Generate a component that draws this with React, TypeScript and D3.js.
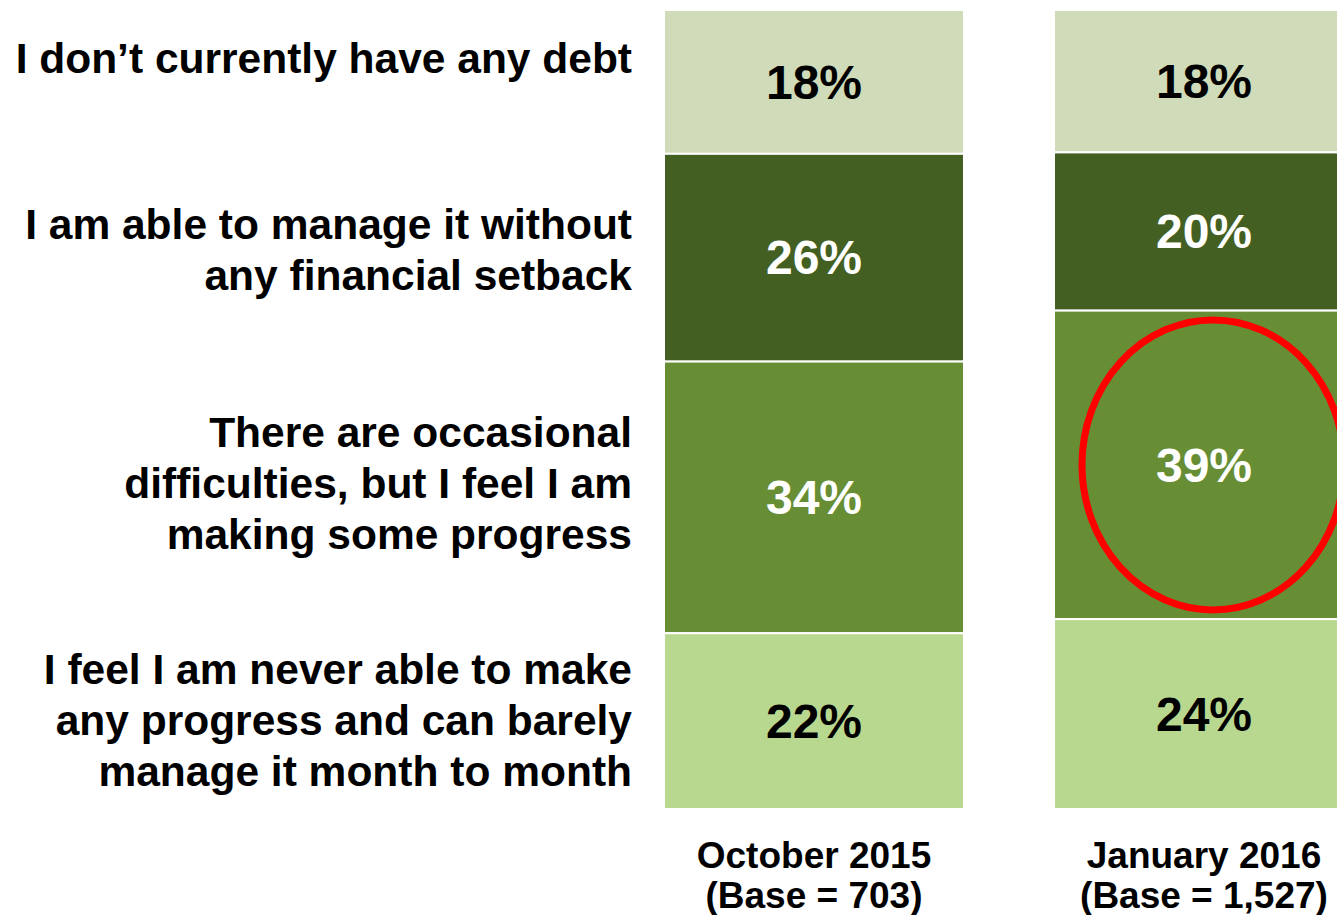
import React from "react";
import * as d3 from "d3";

const categories = [
  "I don’t currently have any debt",
  "I am able to manage it without any financial setback",
  "There are occasional difficulties, but I feel I am making some progress",
  "I feel I am never able to make any progress and can barely manage it month to month",
];
const categoryLines = [
  ["I don’t currently have any debt"],
  ["I am able to manage it without", "any financial setback"],
  ["There are occasional", "difficulties, but I feel I am", "making some progress"],
  ["I feel I am never able to make", "any progress and can barely", "manage it month to month"],
];
const periods = ["October 2015", "January 2016"];
const bases = ["(Base = 703)", "(Base = 1,527)"];
const october2015 = [18, 26, 34, 22];
const january2016 = [18, 20, 39, 24];
const seriesValues = [october2015, january2016];
const highlight = { period: 1, category: 2 };

const colors = ["#cfdbb9", "#445f22", "#678e34", "#b9d88f"];
const textColors = ["#000000", "#ffffff", "#ffffff", "#000000"];
// vertical center (px) of each left label block
const labelCenters = [58, 249, 483, 720];

const W = 1337;
const H = 915;
const FONT = "'Liberation Sans', Arial, Helvetica, sans-serif";

export default function App() {
  const x = d3.scaleBand<string>().domain(periods).range([664, 1354]).paddingInner(90 / 390).paddingOuter(0);
  const bw = x.bandwidth();
  const top = 10;
  const bottom = 809;

  const bars = seriesValues.map((vals, pi) => {
    const total = d3.sum(vals);
    const y = d3.scaleLinear().domain([0, total]).range([top, bottom]);
    const cum = d3.cumsum(vals);
    return vals.map((v, ci) => {
      const y0 = y(cum[ci] - v);
      const y1 = y(cum[ci]);
      return { pi, ci, v, x: x(periods[pi]) as number, y0, y1 };
    });
  });

  const hl = bars[highlight.period][highlight.category];
  const hlCx = hl.x + bw / 2 + 9;
  const hlCy = (hl.y0 + hl.y1) / 2;

  const lineH = 51;

  return (
    <svg
      width={W}
      height={H}
      style={{ position: "absolute", left: 0, top: 0, background: "#fff" }}
      fontFamily={FONT}
      fontWeight="bold"
    >
      {bars.flat().map((b) => (
        <g key={`${b.pi}-${b.ci}`}>
          <rect
            x={b.x}
            y={b.y0}
            width={bw}
            height={b.y1 - b.y0}
            fill={colors[b.ci]}
            stroke="#ffffff"
            strokeWidth={2}
          />
          <text
            x={b.x + bw / 2}
            y={(b.y0 + b.y1) / 2}
            dy="0.35em"
            textAnchor="middle"
            fontSize={48}
            fill={textColors[b.ci]}
          >
            {`${b.v}%`}
          </text>
        </g>
      ))}
      <ellipse cx={hlCx} cy={hlCy} rx={131} ry={145} fill="none" stroke="#ff0000" strokeWidth={7} />
      {categoryLines.map((lines, ci) => {
        const n = lines.length;
        return (
          <text key={ci} textAnchor="end" fontSize={42.5} fill="#000">
            {lines.map((ln, li) => (
              <tspan key={li} x={632} y={labelCenters[ci] + (li - (n - 1) / 2) * lineH} dy="0.36em">
                {ln}
              </tspan>
            ))}
          </text>
        );
      })}
      {periods.map((p, pi) => (
        <text key={p} textAnchor="middle" fontSize={37} fill="#000">
          <tspan x={(x(p) as number) + bw / 2} y={868}>
            {p}
          </tspan>
          <tspan x={(x(p) as number) + bw / 2} y={908}>
            {bases[pi]}
          </tspan>
        </text>
      ))}
    </svg>
  );
}
